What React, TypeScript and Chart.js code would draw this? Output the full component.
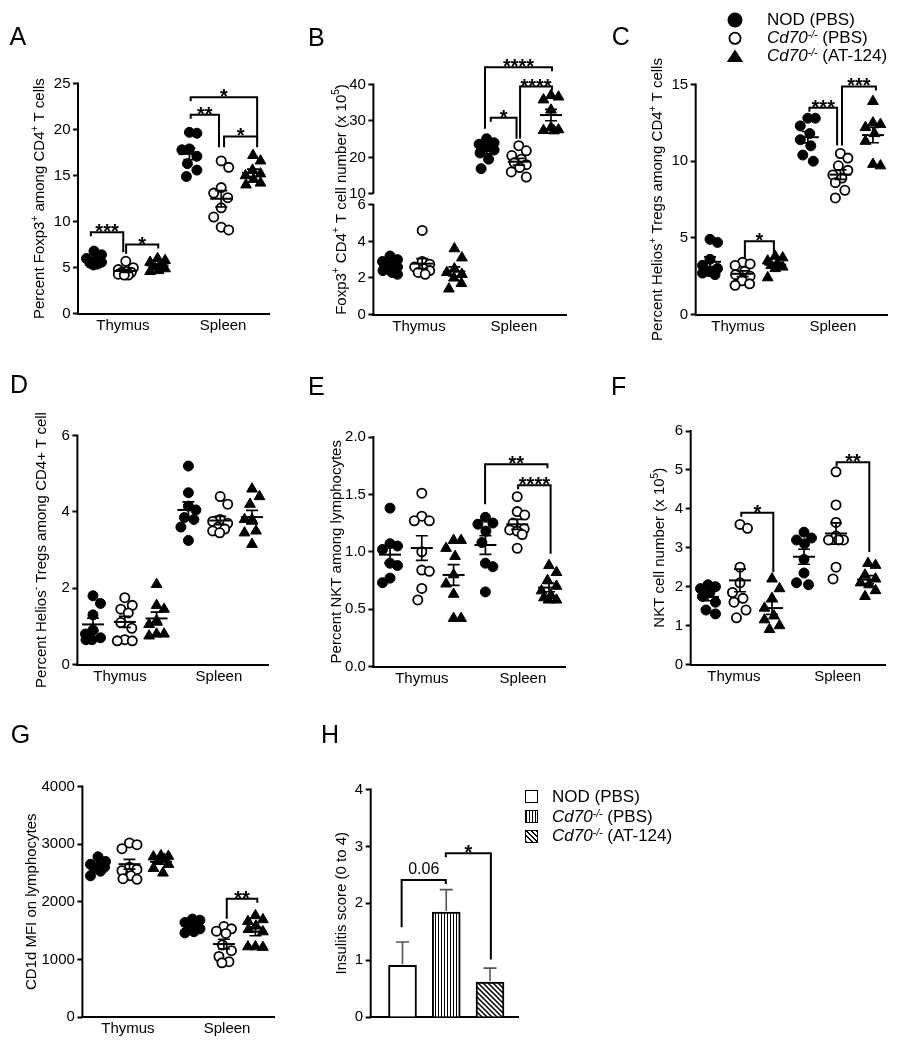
import React, { useEffect, useRef } from 'react';
import { Chart, registerables } from 'chart.js';

Chart.register(...registerables);

const FONT = '"Liberation Sans", Arial, Helvetica, sans-serif';

const tissueLabels = ['Thymus', 'Spleen'];

// ---------- Panel A: Percent Foxp3+ among CD4+ T cells ----------
const aThymusNOD = [6.8, 6.4, 6.0, 5.8, 5.6, 5.5, 5.4, 5.3];
const aThymusKO = [5.7, 5.0, 4.8, 4.6, 4.5, 4.5, 4.3, 4.2, 4.2];
const aThymusAT = [6.0, 5.8, 5.6, 5.3, 5.1, 4.9, 4.7, 4.6];
const aSpleenNOD = [19.6, 19.7, 17.9, 17.8, 17.1, 16.3, 15.6, 14.9];
const aSpleenKO = [16.6, 15.9, 13.7, 13.1, 12.6, 11.5, 10.5, 9.4, 9.1];
const aSpleenAT = [17.2, 16.6, 15.6, 15.2, 15.0, 14.6, 14.2, 14.0];
const aTicks = [0, 5, 10, 15, 20, 25];

// ---------- Panel B: Foxp3+ CD4+ T cell number ----------
const bThymusNOD = [3.2, 3.0, 2.9, 2.7, 2.6, 2.4, 2.3, 2.2];
const bThymusKO = [4.6, 2.9, 2.75, 2.6, 2.5, 2.4, 2.3, 2.2];
const bThymusAT = [3.6, 3.1, 2.5, 2.3, 2.2, 2.0, 1.7, 1.4];
const bSpleenNOD = [25.1, 24.0, 23.6, 22.8, 22.0, 21.2, 19.5, 16.9];
const bSpleenKO = [23.2, 21.8, 20.5, 19.5, 18.5, 18.0, 17.2, 16.0, 14.6];
const bSpleenAT = [37.0, 36.6, 35.8, 33.0, 28.2, 27.6, 27.4, 27.3];
const bTicksLow = [0, 2, 4, 6];
const bTicksHigh = [10, 20, 30, 40];

// ---------- Panel C: Percent Helios+ Tregs ----------
const cThymusNOD = [4.9, 4.7, 3.6, 3.2, 3.0, 2.8, 2.7, 2.6];
const cThymusKO = [3.4, 3.3, 3.2, 2.8, 2.6, 2.5, 2.2, 2.0, 1.9];
const cThymusAT = [3.8, 3.7, 3.5, 3.3, 3.2, 3.1, 3.0, 2.4];
const cSpleenNOD = [12.8, 12.8, 12.3, 11.8, 11.4, 11.0, 10.4, 10.0];
const cSpleenKO = [10.5, 10.2, 9.7, 9.4, 9.1, 8.9, 8.6, 8.1, 7.6];
const cSpleenAT = [13.9, 12.5, 12.4, 12.2, 11.8, 11.3, 9.8, 9.7];
const cTicks = [0, 5, 10, 15];

// ---------- Panel D: Percent Helios- Tregs ----------
const dThymusNOD = [1.8, 1.6, 1.3, 0.9, 0.8, 0.7, 0.65, 0.65];
const dThymusKO = [1.75, 1.55, 1.45, 1.35, 1.1, 0.95, 0.65, 0.62, 0.62];
const dThymusAT = [2.1, 1.55, 1.45, 1.15, 1.05, 0.8, 0.8, 0.75];
const dSpleenNOD = [5.2, 4.5, 4.15, 4.05, 3.85, 3.8, 3.6, 3.25];
const dSpleenKO = [4.4, 4.2, 3.8, 3.75, 3.7, 3.6, 3.55, 3.5, 3.45];
const dSpleenAT = [4.6, 4.4, 4.2, 3.8, 3.8, 3.5, 3.45, 3.15];
const dTicks = [0, 2, 4, 6];

// ---------- Panel E: Percent NKT ----------
const eThymusNOD = [1.38, 1.07, 1.05, 1.02, 0.9, 0.88, 0.77, 0.73];
const eThymusKO = [1.51, 1.31, 1.27, 1.27, 1.0, 0.84, 0.83, 0.68, 0.58];
const eThymusAT = [1.1, 1.1, 1.03, 0.96, 0.8, 0.72, 0.63, 0.42, 0.42];
const eSpleenNOD = [1.3, 1.25, 1.24, 1.18, 1.08, 0.9, 0.87, 0.65];
const eSpleenKO = [1.48, 1.35, 1.32, 1.25, 1.2, 1.19, 1.18, 1.15, 1.03];
const eSpleenAT = [0.88, 0.82, 0.75, 0.7, 0.66, 0.62, 0.6, 0.58, 0.58];
const eTicks = [0, 0.5, 1, 1.5, 2];

// ---------- Panel F: NKT cell number ----------
const fThymusNOD = [2.05, 2.0, 1.95, 1.85, 1.75, 1.6, 1.4, 1.3];
const fThymusKO = [3.6, 3.5, 2.5, 2.1, 1.85, 1.7, 1.6, 1.4, 1.2];
const fThymusAT = [2.2, 1.95, 1.7, 1.45, 1.25, 1.15, 1.0, 0.9];
const fSpleenNOD = [3.4, 3.25, 3.2, 3.1, 2.7, 2.35, 2.1, 2.05];
const fSpleenKO = [4.95, 4.1, 3.65, 3.3, 3.2, 3.2, 3.2, 2.5, 2.2];
const fSpleenAT = [2.6, 2.55, 2.3, 2.2, 2.1, 2.05, 1.9, 1.75];
const fTicks = [0, 1, 2, 3, 4, 5, 6];

// ---------- Panel G: CD1d MFI ----------
const gThymusNOD = [2780, 2700, 2650, 2620, 2600, 2580, 2530, 2450];
const gThymusKO = [3020, 2990, 2920, 2600, 2560, 2540, 2450, 2400, 2390];
const gThymusAT = [2800, 2790, 2780, 2740, 2700, 2650, 2580, 2500];
const gSpleenNOD = [1700, 1680, 1640, 1600, 1560, 1530, 1480, 1460];
const gSpleenKO = [1570, 1530, 1490, 1450, 1250, 1150, 1050, 960, 940];
const gSpleenAT = [1760, 1690, 1660, 1580, 1520, 1480, 1220, 1220, 1210];
const gTicks = [0, 1000, 2000, 3000, 4000];

// ---------- Panel H: Insulitis score ----------
const hGroups = ['NOD (PBS)', 'Cd70-/- (PBS)', 'Cd70-/- (AT-124)'];
const hMeans = [0.908, 1.845, 0.615];
const hErrors = [0.41, 0.395, 0.245];
const hTicks = [0, 1, 2, 3, 4];

// ---------- significance annotations (data coordinates) ----------
const aBrackets = [
  { x1: -0.1, x2: 0.92, y: 8.86, e1: null, e2: 6.69, label: '***' },
  { x1: 1.01, x2: 2.02, y: 7.52, e1: 6.51, e2: null, label: '*' },
  { x1: 3.04, x2: 5.13, y: 23.5, e1: null, e2: 18.09, label: '*' },
  { x1: 3.04, x2: 3.93, y: 21.6, e1: null, e2: 18.09, label: '**' },
  { x1: 4.09, x2: 5.13, y: 19.25, e1: 18.09, e2: null, label: '*' },
];
const bBrackets = [
  { x1: 2.95, x2: 5.03, y: 44.75, e1: 27.84, e2: null, label: '****', s: 'yHi' },
  { x1: 4.04, x2: 5.03, y: 39.45, e1: 25.1, e2: null, label: '****', s: 'yHi' },
  { x1: 3.13, x2: 3.93, y: 30.86, e1: null, e2: 25.1, label: '*', s: 'yHi' },
];
const cBrackets = [
  { x1: 1.07, x2: 1.96, y: 4.78, e1: 3.63, e2: 4.0, label: '*' },
  { x1: 3.05, x2: 3.9, y: 13.48, e1: null, e2: 11.02, label: '***' },
  { x1: 4.05, x2: 5.09, y: 14.87, e1: 11.02, e2: null, label: '***' },
];
const eBrackets = [
  { x1: 2.99, x2: 4.95, y: 1.762, e1: 1.413, e2: null, label: '**' },
  { x1: 4.03, x2: 5.05, y: 1.579, e1: null, e2: 0.983, label: '****' },
];
const fBrackets = [
  { x1: 1.04, x2: 2.04, y: 3.9, e1: null, e2: 2.37, label: '*' },
  { x1: 4.02, x2: 5.04, y: 5.2, e1: null, e2: 2.89, label: '**' },
];
const gBrackets = [{ x1: 4.09, x2: 5.06, y: 2053, e1: 1706, e2: null, label: '**' }];
const hBrackets = [
  { x1: -0.02, x2: 0.99, y: 2.41, e1: 1.58, e2: null, label: '0.06' },
  { x1: 0.99, x2: 2.02, y: 2.88, e1: null, e2: 1.01, label: '*' },
];

// ---------- y-axis titles (rich text: [text, superscript?]) ----------
const aTitle = [['Percent Foxp3'], ['+', 1], [' among CD4'], ['+', 1], [' T cells']];
const bTitle = [['Foxp3'], ['+', 1], [' CD4'], ['+', 1], [' T cell number (x 10'], ['5', 1], [')']];
const cTitle = [['Percent Helios'], ['+', 1], [' Tregs among CD4'], ['+', 1], [' T cells']];
const dTitle = [['Percent Helios'], ['-', 1], [' Tregs among CD4+ T cell']];
const eTitle = [['Percent NKT among lymphocytes']];
const fTitle = [['NKT cell number (x 10'], ['5', 1], [')']];
const gTitle = [['CD1d MFI on lymphocytes']];
const hTitle = [['Insulitis score (0 to 4)']];

function mk(arrs: number[][], ids?: string[]) {
  return arrs.map((v, i) => ({ vals: v, kind: i % 3, cx: i, s: ids ? ids[i] : 'y' }));
}

const panels: any[] = [
  {
    key: 'A', rect: { l: 0, t: 0, w: 300, h: 350 }, area: { x0: 78, y0: 83.5, x1: 269, y1: 313.8 },
    x: { min: -0.503, max: 5.503, ticks: [0.91, 4.06] },
    yScales: [{ id: 'y', min: 0, max: 25, ticks: aTicks, dec: 0 }],
    groups: mk([aThymusNOD, aThymusKO, aThymusAT, aSpleenNOD, aSpleenKO, aSpleenAT]),
    brackets: aBrackets, title: aTitle, titleOff: 38,
  },
  {
    key: 'B', rect: { l: 300, t: 0, w: 300, h: 350 }, area: { x0: 373.4, y0: 84.5, x1: 566.7, y1: 314.5 },
    x: { min: -0.516, max: 5.488, ticks: [0.9, 3.85] },
    yScales: [
      { id: 'yHi', min: 8.435, max: 40, ticks: bTicksHigh, dec: 0, sw: 1, w: 2, split: true },
      { id: 'yLo', min: 0, max: 6.29, ticks: bTicksLow, dec: 0, sw: 1, w: 1, split: true },
    ],
    groups: mk([bThymusNOD, bThymusKO, bThymusAT, bSpleenNOD, bSpleenKO, bSpleenAT], ['yLo', 'yLo', 'yLo', 'yHi', 'yHi', 'yHi']),
    brackets: bBrackets, title: bTitle, titleOff: 31.7,
  },
  {
    key: 'C', rect: { l: 600, t: 0, w: 324, h: 350 }, area: { x0: 695.7, y0: 84.5, x1: 887.3, y1: 314.5 },
    x: { min: -0.439, max: 5.44, ticks: [0.86, 3.77] },
    yScales: [{ id: 'y', min: 0, max: 15, ticks: cTicks, dec: 0 }],
    groups: mk([cThymusNOD, cThymusKO, cThymusAT, cSpleenNOD, cSpleenKO, cSpleenAT]),
    brackets: cBrackets, title: cTitle, titleOff: 37.7,
  },
  {
    key: 'D', rect: { l: 0, t: 350, w: 300, h: 345 }, area: { x0: 77.4, y0: 435.5, x1: 268, y1: 664.5 },
    x: { min: -0.49, max: 5.503, ticks: [0.85, 3.96] },
    yScales: [{ id: 'y', min: 0, max: 6, ticks: dTicks, dec: 0 }],
    groups: mk([dThymusNOD, dThymusKO, dThymusAT, dSpleenNOD, dSpleenKO, dSpleenAT]),
    brackets: [], title: dTitle, titleOff: 35.7,
  },
  {
    key: 'E', rect: { l: 300, t: 350, w: 300, h: 345 }, area: { x0: 373.4, y0: 437, x1: 565, y1: 666.5 },
    x: { min: -0.522, max: 5.503, ticks: [1.0, 4.18] },
    yScales: [{ id: 'y', min: 0, max: 2, ticks: eTicks, dec: 1 }],
    groups: mk([eThymusNOD, eThymusKO, eThymusAT, eSpleenNOD, eSpleenKO, eSpleenAT]),
    brackets: eBrackets, title: eTitle, titleOff: 36.7,
  },
  {
    key: 'F', rect: { l: 600, t: 350, w: 324, h: 345 }, area: { x0: 690.7, y0: 431, x1: 885, y1: 664.5 },
    x: { min: -0.54, max: 5.53, ticks: [0.81, 4.05] },
    yScales: [{ id: 'y', min: 0, max: 6, ticks: fTicks, dec: 0 }],
    groups: mk([fThymusNOD, fThymusKO, fThymusAT, fSpleenNOD, fSpleenKO, fSpleenAT]),
    brackets: fBrackets, title: fTitle, titleOff: 30.7,
  },
  {
    key: 'G', rect: { l: 0, t: 695, w: 300, h: 355 }, area: { x0: 82.4, y0: 786.5, x1: 274, y1: 1017 },
    x: { min: -0.495, max: 5.59, ticks: [0.95, 4.1] },
    yScales: [{ id: 'y', min: 0, max: 4000, ticks: gTicks, dec: 0 }],
    groups: mk([gThymusNOD, gThymusKO, gThymusAT, gSpleenNOD, gSpleenKO, gSpleenAT]),
    brackets: gBrackets, title: gTitle, titleOff: 50.7,
  },
  {
    key: 'H', bar: true, rect: { l: 300, t: 695, w: 320, h: 355 }, area: { x0: 370.7, y0: 789.5, x1: 518.3, y1: 1017 },
    x: { min: -0.727, max: 2.647, ticks: [] },
    yScales: [{ id: 'y', min: 0, max: 4, ticks: hTicks, dec: 0 }],
    groups: [], brackets: hBrackets, title: hTitle, titleOff: 29,
  },
];

function swarm(vals: number[], pxY: number, pxX: number): number[] {
  const minD = 12;
  const maxOff = 7.5;
  const order = vals.map((_, i) => i).sort((a, b) => vals[b] - vals[a]);
  const placed: { x: number; y: number }[] = [];
  const out = new Array(vals.length).fill(0);
  for (const i of order) {
    const y = vals[i] * pxY;
    const bias = placed.reduce((s, p) => s + p.x, 0);
    const pref = bias > 0 ? -1 : 1;
    let best = 0;
    let bestD = -1;
    let chosen: number | null = null;
    for (let m = 0; m <= maxOff; m += 0.5) {
      const cands = m === 0 ? [0] : [pref * m, -pref * m];
      for (const c of cands) {
        let d = Infinity;
        for (const p of placed) d = Math.min(d, Math.hypot(p.x - c, p.y - y));
        if (d >= minD) { chosen = c; break; }
        if (d > bestD) { bestD = d; best = c; }
      }
      if (chosen !== null) break;
    }
    const off = chosen !== null ? chosen : best;
    placed.push({ x: off, y });
    out[i] = off / pxX;
  }
  return out;
}

function stats(vals: number[]) {
  const n = vals.length;
  const m = vals.reduce((s, v) => s + v, 0) / n;
  const sd = Math.sqrt(vals.reduce((s, v) => s + (v - m) * (v - m), 0) / (n - 1));
  return { m, se: sd / Math.sqrt(n) };
}

function makeOverlay(p: any) {
  return {
    id: 'overlay',
    afterDatasetsDraw(chart: any) {
      const ctx = chart.ctx;
      const xs = chart.scales.x;
      const ca = chart.chartArea;
      ctx.save();
      ctx.strokeStyle = '#000';
      ctx.fillStyle = '#000';
      ctx.lineCap = 'butt';
      // y axis line(s) (split for the broken axis)
      p.yScales.forEach((y: any) => {
        const s = chart.scales[y.id];
        const a = s.getPixelForValue(y.ticks[0]);
        const b = s.getPixelForValue(y.ticks[y.ticks.length - 1]);
        ctx.lineWidth = 2;
        ctx.beginPath();
        ctx.moveTo(ca.left, a + (y.ticks[0] === 0 ? 1 : 0));
        ctx.lineTo(ca.left, b - 1);
        ctx.stroke();
      });
      // mean ± SEM
      p.groups.forEach((g: any) => {
        const s = chart.scales[g.s];
        const { m, se } = stats(g.vals);
        const cx = xs.getPixelForValue(g.cx);
        const cy = s.getPixelForValue(m);
        const t = s.getPixelForValue(m + se);
        const b = s.getPixelForValue(m - se);
        ctx.lineWidth = 2;
        ctx.beginPath();
        ctx.moveTo(cx - 11, cy);
        ctx.lineTo(cx + 11, cy);
        ctx.stroke();
        ctx.lineWidth = 1.7;
        ctx.beginPath();
        ctx.moveTo(cx, t);
        ctx.lineTo(cx, b);
        ctx.moveTo(cx - 6, t);
        ctx.lineTo(cx + 6, t);
        ctx.moveTo(cx - 6, b);
        ctx.lineTo(cx + 6, b);
        ctx.stroke();
      });
      // bar error bars (panel H)
      if (p.bar) {
        const s = chart.scales.y;
        ctx.strokeStyle = '#555';
        ctx.lineWidth = 1.6;
        hMeans.forEach((v, i) => {
          const cx = xs.getPixelForValue(i);
          const top = s.getPixelForValue(v);
          const up = s.getPixelForValue(v + hErrors[i]);
          ctx.beginPath();
          ctx.moveTo(cx, top - 1);
          ctx.lineTo(cx, up);
          ctx.moveTo(cx - 6.5, up);
          ctx.lineTo(cx + 6.5, up);
          ctx.stroke();
        });
        ctx.strokeStyle = '#000';
      }
      // significance brackets
      p.brackets.forEach((br: any) => {
        const s = chart.scales[br.s || 'y'];
        const X1 = xs.getPixelForValue(br.x1);
        const X2 = xs.getPixelForValue(br.x2);
        const Y = s.getPixelForValue(br.y);
        const E1 = br.e1 == null ? Y + 4 : s.getPixelForValue(br.e1);
        const E2 = br.e2 == null ? Y + 4 : s.getPixelForValue(br.e2);
        ctx.lineWidth = 2;
        ctx.lineJoin = 'miter';
        ctx.beginPath();
        ctx.moveTo(X1, E1);
        ctx.lineTo(X1, Y);
        ctx.lineTo(X2, Y);
        ctx.lineTo(X2, E2);
        ctx.stroke();
        ctx.textAlign = 'center';
        ctx.textBaseline = 'alphabetic';
        if (/^\*+$/.test(br.label)) {
          ctx.font = `bold 20px ${FONT}`;
          ctx.fillText(br.label, (X1 + X2) / 2, Y + 6);
        } else {
          ctx.font = `16px ${FONT}`;
          ctx.fillText(br.label, (X1 + X2) / 2, Y - 6);
        }
      });
      ctx.restore();
    },
    afterDraw(chart: any) {
      const ctx = chart.ctx;
      const ca = chart.chartArea;
      ctx.save();
      ctx.fillStyle = '#000';
      ctx.textBaseline = 'middle';
      ctx.textAlign = 'left';
      ctx.translate(ca.left - p.titleOff, (ca.top + ca.bottom) / 2);
      ctx.rotate(-Math.PI / 2);
      const widths = p.title.map((seg: any) => {
        ctx.font = seg[1] ? `10px ${FONT}` : `15px ${FONT}`;
        return ctx.measureText(seg[0]).width;
      });
      const total = widths.reduce((s: number, w: number) => s + w, 0);
      let x = -total / 2;
      p.title.forEach((seg: any, i: number) => {
        ctx.font = seg[1] ? `10px ${FONT}` : `15px ${FONT}`;
        ctx.fillText(seg[0], x, seg[1] ? -5 : 0);
        x += widths[i];
      });
      ctx.restore();
    },
  };
}

function makePatterns(ctx: CanvasRenderingContext2D) {
  const v = document.createElement('canvas');
  v.width = 3;
  v.height = 3;
  const gv = v.getContext('2d') as CanvasRenderingContext2D;
  gv.fillStyle = '#fff';
  gv.fillRect(0, 0, 3, 3);
  gv.fillStyle = '#000';
  gv.fillRect(0, 0, 1, 3);
  const d = document.createElement('canvas');
  const s = 5;
  d.width = s;
  d.height = s;
  const gd = d.getContext('2d') as CanvasRenderingContext2D;
  gd.fillStyle = '#fff';
  gd.fillRect(0, 0, s, s);
  gd.strokeStyle = '#000';
  gd.lineWidth = 1.5;
  gd.beginPath();
  gd.moveTo(-1, -1);
  gd.lineTo(s + 1, s + 1);
  gd.moveTo(-1, s - 1);
  gd.lineTo(1, s + 1);
  gd.moveTo(s - 1, -1);
  gd.lineTo(s + 1, 1);
  gd.stroke();
  return [ctx.createPattern(v, 'repeat'), ctx.createPattern(d, 'repeat')];
}

const pointStyles = [
  { pointStyle: 'circle', radius: 5, backgroundColor: '#000', borderColor: '#000', borderWidth: 1 },
  { pointStyle: 'circle', radius: 4.6, backgroundColor: '#fff', borderColor: '#000', borderWidth: 1.8 },
  { pointStyle: 'triangle', radius: 6.2, backgroundColor: '#000', borderColor: '#000', borderWidth: 1 },
];

function buildConfig(p: any, canvas: HTMLCanvasElement) {
  const { rect, area } = p;
  const yW = area.x0 - rect.l;
  const xH = rect.t + rect.h - area.y1;
  const plotH = area.y1 - area.y0;
  const pxX = (area.x1 - area.x0) / (p.x.max - p.x.min);
  const totalW = p.yScales.reduce((s: number, y: any) => s + (y.sw || 1), 0);
  const pxY: any = {};
  p.yScales.forEach((y: any) => {
    pxY[y.id] = (plotH * ((y.sw || 1) / totalW)) / (y.max - y.min);
  });

  const scales: any = {
    x: {
      type: 'linear',
      axis: 'x',
      min: p.x.min,
      max: p.x.max,
      offset: false,
      afterBuildTicks: (s: any) => { s.ticks = p.x.ticks.map((v: number) => ({ value: v })); },
      afterFit: (s: any) => { s.height = xH; },
      ticks: {
        display: p.x.ticks.length > 0,
        autoSkip: false,
        maxRotation: 0,
        minRotation: 0,
        padding: 3,
        color: '#000',
        font: { family: FONT, size: 15 },
        callback: (_v: any, i: number) => tissueLabels[i],
      },
      grid: { display: false, drawTicks: false, offset: false },
      border: { display: true, color: '#000', width: 2 },
    },
  };
  p.yScales.forEach((y: any) => {
    const sc: any = {
      type: 'linear',
      axis: 'y',
      position: 'left',
      min: y.min,
      max: y.max,
      weight: y.w || 0,
      afterBuildTicks: (s: any) => { s.ticks = y.ticks.map((v: number) => ({ value: v })); },
      afterFit: (s: any) => { s.width = yW; },
      ticks: {
        autoSkip: false,
        padding: 2.5,
        color: '#000',
        font: { family: FONT, size: 15 },
        callback: (v: any) => Number(v).toFixed(y.dec || 0),
      },
      grid: { display: true, drawOnChartArea: false, drawTicks: true, tickLength: 5, tickWidth: 2, tickColor: '#000' },
      border: { display: false },
    };
    if (y.split) {
      sc.stack = 'ys';
      sc.stackWeight = y.sw || 1;
    }
    scales[y.id] = sc;
  });

  let data: any;
  let type: any;
  if (p.bar) {
    const [vp, dp] = makePatterns(canvas.getContext('2d') as CanvasRenderingContext2D);
    type = 'bar';
    data = {
      datasets: [{
        data: hMeans.map((v, i) => ({ x: i, y: v })),
        label: 'Insulitis',
        backgroundColor: ['#fff', vp, dp],
        borderColor: '#000',
        borderWidth: 2,
        borderSkipped: 'start',
        barThickness: 28,
      }],
    };
  } else {
    type = 'scatter';
    data = {
      datasets: p.groups.map((g: any) => {
        const jit = swarm(g.vals, pxY[g.s], pxX);
        return {
          label: `${tissueLabels[g.cx < 3 ? 0 : 1]} ${hGroups[g.kind]}`,
          data: g.vals.map((v: number, i: number) => ({ x: g.cx + jit[i], y: v })),
          yAxisID: g.s,
          ...pointStyles[g.kind],
          pointRadius: pointStyles[g.kind].radius,
          pointBackgroundColor: pointStyles[g.kind].backgroundColor,
          pointBorderColor: pointStyles[g.kind].borderColor,
          pointBorderWidth: pointStyles[g.kind].borderWidth,
          pointHoverRadius: pointStyles[g.kind].radius,
          clip: false,
        };
      }),
    };
  }

  return {
    type,
    data,
    plugins: [makeOverlay(p)],
    options: {
      responsive: false,
      maintainAspectRatio: false,
      animation: false,
      devicePixelRatio: 1,
      events: [],
      layout: { padding: { left: 0, top: area.y0 - rect.t, right: rect.l + rect.w - area.x1, bottom: 0 } },
      plugins: { legend: { display: false }, tooltip: { enabled: false }, title: { display: false } },
      scales,
    },
  };
}

function Panel({ p }: { p: any }) {
  const ref = useRef<HTMLCanvasElement | null>(null);
  useEffect(() => {
    const canvas = ref.current as HTMLCanvasElement;
    const chart = new Chart(canvas, buildConfig(p, canvas) as any);
    return () => chart.destroy();
  }, []);
  return (
    <canvas
      ref={ref}
      width={p.rect.w}
      height={p.rect.h}
      style={{ position: 'absolute', left: p.rect.l, top: p.rect.t, width: p.rect.w, height: p.rect.h }}
    />
  );
}

const letters = [
  { t: 'A', l: 9.5, y: 23.7 }, { t: 'B', l: 308, y: 24.7 }, { t: 'C', l: 611.8, y: 23.7 },
  { t: 'D', l: 10, y: 371.7 }, { t: 'E', l: 308, y: 373.7 }, { t: 'F', l: 611, y: 373.7 },
  { t: 'G', l: 10.8, y: 721.7 }, { t: 'H', l: 321, y: 721.7 },
];

const supStyle: any = { fontSize: '0.62em', verticalAlign: '0.5em', lineHeight: 0 };

function KO({ rest }: { rest: string }) {
  return (
    <>
      <i>Cd70<sup style={supStyle}>-/-</sup></i>{rest}
    </>
  );
}

export default function App() {
  const rowStyle = (left: number, cy: number): any => ({
    position: 'absolute', left, top: cy - 10, height: 20, lineHeight: '20px', fontSize: 17, whiteSpace: 'nowrap', color: '#000',
  });
  const box = (top: number, bg: string): any => ({
    position: 'absolute', left: 525, top, width: 13, height: 13, boxSizing: 'border-box', border: '1.6px solid #000', background: bg,
  });
  return (
    <div style={{ position: 'absolute', left: 0, top: 0, width: 924, height: 1050, background: '#fff', fontFamily: FONT, overflow: 'hidden' }}>
      {panels.map((p) => <Panel key={p.key} p={p} />)}
      {letters.map((L) => (
        <div key={L.t} style={{ position: 'absolute', left: L.l, top: L.y, fontSize: 25, lineHeight: '25px', color: '#000' }}>{L.t}</div>
      ))}
      {/* top legend */}
      <svg width={30} height={70} style={{ position: 'absolute', left: 720, top: 0 }}>
        <circle cx={15} cy={20} r={7.5} fill="#000" />
        <circle cx={15} cy={38.3} r={5.6} fill="#fff" stroke="#000" strokeWidth={1.8} />
        <polygon points="6.8,62 23.2,62 15,49.5" fill="#000" />
      </svg>
      <div style={rowStyle(767, 20.3)}>NOD (PBS)</div>
      <div style={rowStyle(767, 38.3)}><KO rest=" (PBS)" /></div>
      <div style={rowStyle(767, 55.8)}><KO rest=" (AT-124)" /></div>
      {/* bar legend */}
      <div style={box(790, '#fff')} />
      <div style={box(809.5, 'repeating-linear-gradient(90deg, #000 0 1px, #fff 1px 3px)')} />
      <div style={box(829.5, 'repeating-linear-gradient(45deg, #000 0 1.4px, #fff 1.4px 3.6px)')} />
      <div style={rowStyle(552, 797)}>NOD (PBS)</div>
      <div style={rowStyle(552, 816.5)}><KO rest=" (PBS)" /></div>
      <div style={rowStyle(552, 836)}><KO rest=" (AT-124)" /></div>
    </div>
  );
}
